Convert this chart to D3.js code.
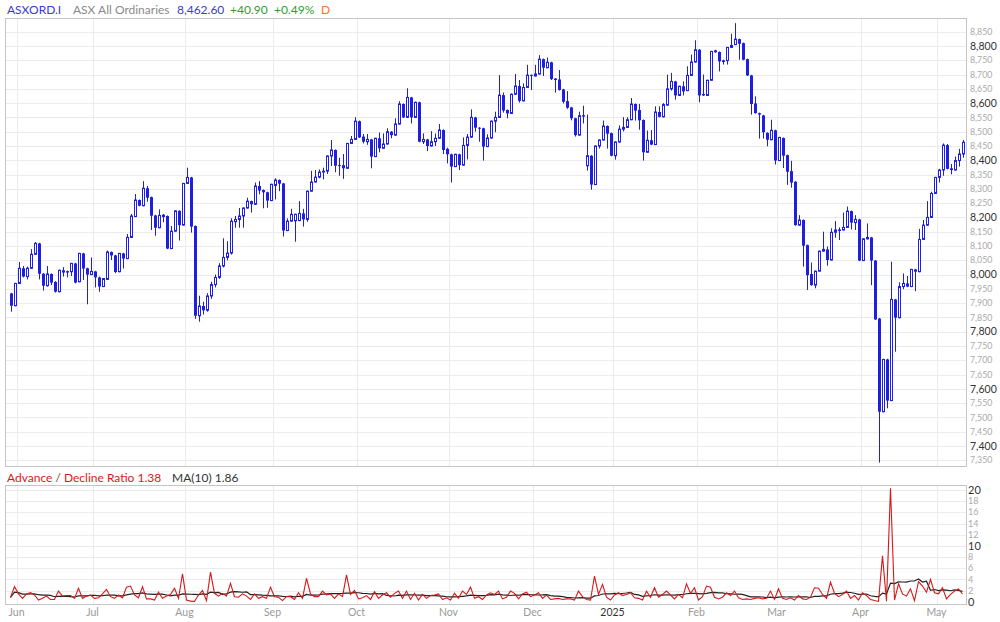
<!DOCTYPE html>
<html><head><meta charset="utf-8">
<script src="https://cdn.jsdelivr.net/npm/d3@7"></script>
<style>body{margin:0;background:#fff;} svg{display:block;font-family:Lato, "Open Sans", sans-serif;}</style>
</head><body><svg id="c" width="1000" height="622"></svg>
<script>
// Month labels and trading days per month (first entry = last days of May 2024)
const monthLabels = ["", "Jun","Jul","Aug","Sep","Oct","Nov","Dec","2025","Feb","Mar","Apr","May"];
const tradingDays = [2,19,23,22,21,23,21,20,21,20,21,19,7];

const opens = [7934,7891,7969,8022,7993,8022,8071,8109,8003,7961,8002,7974,7940,8015,8012,8010,8039,7975,8074,8022,8000,8011,7990,7958,7983,8079,8067,8010,8074,8056,8130,8203,8261,8241,8302,8271,8207,8164,8203,8205,8091,8152,8223,8173,8319,8340,8170,7856,7890,7875,7925,7965,7990,8030,8060,8075,8185,8193,8205,8233,8257,8246,8310,8296,8288,8259,8312,8331,8319,8154,8187,8188,8189,8214,8193,8292,8324,8341,8359,8362,8415,8436,8383,8383,8372,8459,8473,8537,8483,8465,8473,8413,8477,8442,8457,8500,8488,8527,8597,8550,8620,8550,8603,8465,8473,8450,8465,8477,8506,8440,8421,8378,8421,8383,8452,8481,8550,8514,8512,8448,8478,8537,8550,8628,8576,8564,8631,8660,8608,8655,8699,8695,8702,8754,8724,8743,8686,8683,8648,8607,8585,8547,8488,8558,8381,8416,8315,8450,8471,8520,8495,8416,8464,8509,8515,8542,8597,8576,8541,8428,8470,8455,8569,8552,8593,8650,8676,8627,8659,8644,8697,8744,8787,8632,8627,8680,8785,8779,8750,8749,8795,8805,8824,8810,8754,8697,8599,8565,8557,8496,8472,8505,8399,8478,8418,8362,8325,8173,8191,8103,8002,7963,8012,8082,8088,8051,8148,8155,8156,8165,8222,8182,8193,8049,8125,8130,8049,7846,7520,7703,7559,7913,7849,7958,7969,7958,8018,8010,8123,8173,8200,8284,8340,8366,8453,8372,8366,8399,8422];
const highs = [7936,7971,8044,8030,8028,8089,8114,8111,8005,8030,8004,7977,8017,8026,8014,8041,8041,8076,8076,8024,8060,8013,7993,7988,8084,8081,8069,8076,8076,8142,8212,8282,8263,8327,8310,8273,8209,8228,8212,8207,8170,8225,8225,8321,8374,8342,8172,7926,7905,7935,7975,8000,8040,8127,8117,8197,8205,8233,8235,8269,8259,8322,8327,8298,8290,8318,8337,8333,8321,8197,8230,8213,8257,8230,8294,8363,8366,8368,8374,8417,8471,8438,8409,8422,8461,8485,8551,8539,8492,8492,8475,8479,8497,8494,8512,8502,8547,8607,8599,8652,8622,8605,8605,8494,8475,8502,8494,8527,8508,8444,8423,8423,8423,8480,8492,8578,8552,8516,8514,8491,8539,8570,8698,8637,8578,8634,8702,8681,8669,8734,8700,8734,8768,8756,8760,8745,8688,8716,8650,8642,8587,8549,8570,8591,8560,8418,8452,8473,8539,8522,8497,8466,8522,8551,8551,8618,8599,8597,8543,8504,8506,8589,8589,8600,8700,8706,8678,8661,8676,8729,8770,8820,8789,8700,8682,8783,8787,8781,8752,8797,8843,8880,8826,8812,8756,8699,8624,8567,8559,8498,8542,8507,8482,8480,8420,8398,8327,8208,8193,8105,8042,8014,8084,8150,8098,8162,8187,8165,8217,8238,8224,8208,8195,8127,8179,8132,8051,7848,7705,7705,8045,7915,7973,8004,7995,8020,8020,8160,8191,8257,8290,8342,8370,8459,8457,8387,8413,8440,8471];
const lows = [7870,7889,7967,7990,7983,8020,8069,7983,7944,7958,7963,7937,7938,7993,7990,7995,7969,7973,7981,7896,7998,7955,7940,7956,7981,8051,8005,8008,8021,8054,8128,8201,8239,8239,8255,8156,8136,8162,8183,8089,8089,8150,8119,8171,8317,8147,7845,7835,7860,7870,7915,7955,7985,8025,8050,8070,8164,8164,8164,8231,8217,8244,8281,8232,8234,8257,8263,8292,8133,8152,8185,8115,8187,8168,8185,8290,8322,8337,8333,8352,8380,8358,8346,8335,8370,8457,8471,8478,8459,8454,8372,8411,8428,8440,8455,8477,8486,8525,8548,8548,8529,8548,8463,8457,8432,8448,8450,8475,8422,8389,8322,8376,8366,8381,8403,8479,8500,8465,8399,8446,8476,8498,8548,8567,8547,8562,8629,8602,8606,8653,8646,8693,8700,8695,8722,8681,8637,8644,8599,8580,8540,8483,8486,8529,8364,8297,8313,8441,8469,8441,8414,8402,8462,8501,8513,8540,8539,8507,8399,8426,8453,8453,8550,8550,8591,8644,8612,8625,8627,8642,8695,8742,8603,8625,8625,8678,8776,8711,8735,8735,8793,8803,8752,8750,8695,8560,8563,8476,8476,8449,8470,8385,8397,8373,8314,8304,8171,8171,8028,7946,7961,7952,8010,8080,8031,8049,8129,8121,8154,8163,8158,8156,8047,8047,8123,7963,7841,7342,7518,7532,7557,7730,7847,7949,7956,7956,7942,8008,8121,8171,8198,8282,8322,8346,8368,8351,8364,8378,8409];
const closes = [7891,7969,8022,7993,8022,8071,8109,8003,7961,8002,7972,7940,8015,8007,8007,8039,7972,8074,8021,8000,8011,7990,7958,7986,8079,8067,8009,8074,8056,8130,8205,8261,8241,8302,8269,8206,8164,8207,8208,8091,8152,8223,8173,8319,8340,8168,7856,7890,7875,7925,7965,7990,8030,8060,8075,8187,8193,8205,8233,8257,8246,8310,8294,8288,8259,8316,8331,8318,8154,8187,8211,8211,8214,8193,8292,8324,8341,8359,8362,8415,8436,8381,8381,8372,8459,8473,8537,8480,8465,8473,8413,8477,8442,8457,8500,8488,8527,8597,8550,8620,8550,8603,8465,8473,8450,8465,8477,8506,8436,8421,8378,8421,8383,8452,8481,8550,8514,8512,8448,8478,8537,8550,8628,8574,8564,8631,8660,8608,8655,8698,8696,8702,8754,8724,8743,8684,8681,8646,8605,8584,8547,8488,8556,8553,8416,8315,8450,8471,8520,8493,8416,8464,8509,8515,8542,8597,8574,8540,8428,8470,8455,8569,8552,8595,8650,8676,8627,8659,8641,8697,8744,8787,8627,8627,8680,8781,8778,8746,8744,8795,8802,8824,8808,8752,8697,8597,8565,8560,8498,8472,8505,8399,8480,8416,8360,8322,8173,8191,8101,7998,7963,8012,8082,8088,8051,8148,8156,8156,8165,8222,8182,8193,8049,8125,8130,8049,7843,7520,7703,7559,7913,7849,7958,7969,7958,8018,8010,8123,8173,8200,8284,8340,8366,8453,8370,8366,8399,8422,8463];

const adRatio = [0.75,2.7,1.4,0.6,1.4,1.65,1.2,0.3,0.6,1.0,0.4,0.4,1.9,1.0,1.1,1.1,0.6,2.4,0.6,1.0,1.2,0.6,0.7,1.4,2.2,0.9,0.6,1.2,0.7,2.6,2.8,1.2,0.7,2.7,0.5,0.5,0.3,1.7,0.6,1.0,1.3,2.4,0.6,5.0,0.3,0.1,0.05,1.2,2.0,0.2,5.3,1.5,1.0,1.5,1.0,3.3,0.9,0.8,1.4,1.0,0.4,1.4,0.6,0.9,0.6,2.6,0.9,0.8,0.2,0.9,0.9,0.4,1.6,0.6,4.2,1.4,0.9,0.9,1.9,1.2,1.4,0.6,1.4,0.9,4.8,
1.3,2.0,0.5,0.7,1.1,0.4,1.8,0.6,1.2,1.6,0.8,1.5,1.9,0.6,1.9,0.4,1.5,0.3,1.3,0.6,1.1,1.2,1.4,0.4,0.7,0.3,1.5,0.6,1.9,1.3,2.6,0.6,0.9,0.4,1.2,1.6,1.3,1.9,0.5,0.8,1.9,1.5,0.5,1.4,1.7,0.9,1.2,1.6,0.6,1.2,0.4,0.5,0.6,0.4,0.5,0.5,0.3,1.9,0.9,0.4,0.3,4.6,1.3,3.1,0.8,0.3,1.2,1.6,1.1,1.3,1.6,0.7,0.6,0.3,1.9,0.8,2.5,0.8,1.3,1.9,1.2,0.5,1.3,0.7,3.2,1.5,2.5,0.3,0.9,2.8,2.6,0.8,0.5,0.8,1.6,1.1,1.9,0.7,0.4,0.5,0.4,0.6,0.7,0.5,0.6,1.9,0.4,2.3,0.6,0.4,0.7,0.3,1.1,0.5,0.4,0.8,2.5,2.4,1.3,0.6,3.5,1.5,0.9,1.3,1.9,0.6,1.1,0.3,1.6,1.1,0.4,0.2,0.05,8.2,0.1,20.3,0.3,3.2,1.4,1.0,2.3,0.2,3.6,2.8,1.7,4.0,1.6,1.4,2.5,0.5,1.3,1.9,2.3,1.38];

const priceTicks = d3.range(7350, 8851, 50);
const adTicks = d3.range(0, 21, 2);

const svg = d3.select("#c");
const n = closes.length;
const slot = 4, x0 = 8.5;
const x = d3.scaleBand().domain(d3.range(n)).range([x0, x0 + slot * n]);
const cx = i => x(i) + slot / 2;

const P = {left: 5.5, right: 966.5, top: 18.5, bottom: 466.5};
const L = {left: 5.5, right: 966.5, top: 485.5, bottom: 604.5};
const y = d3.scaleLinear().domain([7400, 8800]).range([446, 46]);
const ya = d3.scaleLinear().domain([0, 20]).range([601.7, 490]);

// month starts
const monthStart = [];
let acc = 0;
tradingDays.forEach((d, i) => { monthStart.push({label: monthLabels[i], idx: acc}); acc += d; });
const months = monthStart.filter(m => m.label !== "");

const gridC = "#ebebeb", borderC = "#c4c4c4";

function panelGrid(p, yTicks, ys) {
  const g = svg.append("g");
  g.selectAll(".h").data(yTicks).join("line")
    .attr("x1", p.left).attr("x2", p.right)
    .attr("y1", d => Math.round(ys(d)) + 0.5).attr("y2", d => Math.round(ys(d)) + 0.5)
    .attr("stroke", gridC);
  g.selectAll(".v").data(months).join("line")
    .attr("x1", d => Math.round(x(d.idx)) + 0.5).attr("x2", d => Math.round(x(d.idx)) + 0.5)
    .attr("y1", p.top).attr("y2", p.bottom).attr("stroke", gridC);
  g.append("rect").attr("x", p.left).attr("y", p.top).attr("width", p.right - p.left)
    .attr("height", p.bottom - p.top).attr("fill", "none").attr("stroke", borderC);
}
panelGrid(P, priceTicks, y);
panelGrid(L, adTicks.filter(d => d > 0), ya);

// price axis labels
svg.append("g").selectAll("text").data(priceTicks).join("text")
  .attr("x", 970).attr("y", d => y(d)).attr("dy", "0.35em")
  .attr("font-size", d => d % 200 === 0 ? 10.5 : 8.8)
  .attr("fill", d => d % 200 === 0 ? "#333" : "#aaa")
  .text(d => d3.format(",")(d));

// ad axis labels
svg.append("g").selectAll("text").data(adTicks).join("text")
  .attr("x", 968).attr("y", d => ya(d)).attr("dy", "0.35em")
  .attr("font-size", d => d % 10 === 0 ? 11 : 9)
  .attr("fill", d => d % 10 === 0 ? "#333" : "#aaa")
  .text(d => d);

// month labels
svg.append("g").selectAll("text").data(months).join("text")
  .attr("x", d => x(d.idx)).attr("y", 616).attr("text-anchor", "middle")
  .attr("font-size", 10.5)
  .attr("fill", d => d.label === "2025" ? "#333" : "#999")
  .text(d => d.label);

// candles
const candleC = "#1f1fe0";
const cg = svg.append("g");
d3.range(n).forEach(i => {
  const o = opens[i], c = closes[i], h = highs[i], l = lows[i];
  const xc = Math.round(cx(i)) + 0.5;
  cg.append("line").attr("x1", xc).attr("x2", xc)
    .attr("y1", y(h)).attr("y2", y(l)).attr("stroke", candleC).attr("stroke-width", 1);
  const top = y(Math.max(o, c)), bot = y(Math.min(o, c));
  if (c >= o) {
    cg.append("rect").attr("x", xc - 1).attr("width", 2)
      .attr("y", top).attr("height", Math.max(bot - top, 0.5))
      .attr("fill", "#fff").attr("stroke", candleC).attr("stroke-width", 1);
  } else {
    cg.append("rect").attr("x", xc - 1.5).attr("width", 3)
      .attr("y", top).attr("height", Math.max(bot - top, 1))
      .attr("fill", candleC);
  }
});

// AD ratio + MA(10)
const ma = adRatio.map((v, i) => d3.mean(adRatio.slice(Math.max(0, i - 9), i + 1)));
const line = d3.line().x((d, i) => cx(i)).y(d => ya(d));
svg.append("path").datum(ma).attr("d", line).attr("fill", "none").attr("stroke", "#222").attr("stroke-width", 1.2);
svg.append("path").datum(adRatio).attr("d", line).attr("fill", "none").attr("stroke", "#d81818").attr("stroke-width", 1.1);

// headers
const hdr = [
  {t: "ASXORD.I", x: 7, c: "#3a3ad0"},
  {t: "ASX All Ordinaries", x: 73, c: "#8a8a8a"},
  {t: "8,462.60", x: 177, c: "#3a3ad0"},
  {t: "+40.90", x: 230, c: "#2f9e2f"},
  {t: "+0.49%", x: 274, c: "#2f9e2f"},
  {t: "D", x: 321, c: "#f07a1e"}
];
svg.append("g").selectAll("text").data(hdr).join("text")
  .attr("x", d => d.x).attr("y", 14).attr("font-size", 12).attr("fill", d => d.c).text(d => d.t);

const last = adRatio[n - 1], lastMa = ma[n - 1];
svg.append("text").attr("x", 7).attr("y", 482).attr("font-size", 12).attr("fill", "#d81818")
  .text("Advance / Decline Ratio " + d3.format(".2f")(last));
svg.append("text").attr("x", 172).attr("y", 482).attr("font-size", 12).attr("fill", "#333")
  .text("MA(10) " + d3.format(".2f")(lastMa));
</script></body></html>
